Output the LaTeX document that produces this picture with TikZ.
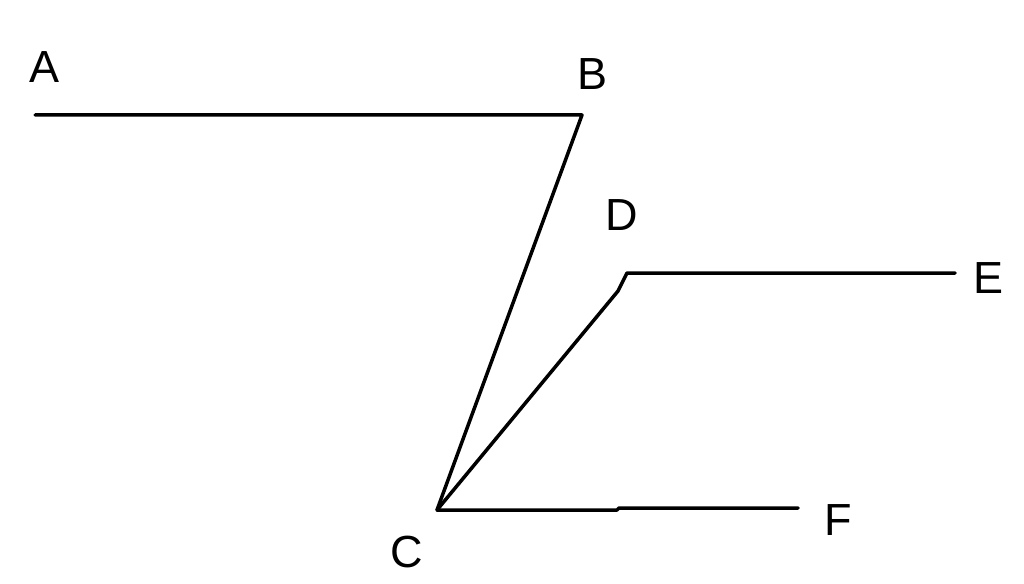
\documentclass[tikz,border=0pt]{standalone}
\usepackage{fontspec}
\setmainfont{Liberation Sans}
\begin{document}
\begin{tikzpicture}[x=1pt,y=-1pt,
  seg/.style={line width=3.5pt,line cap=round,line join=round,black},
  lbl/.style={anchor=base,inner sep=0pt,font=\fontsize{45}{45}\selectfont}]
\useasboundingbox (0,0) rectangle (1024,583);
\coordinate (a) at (35,115);
\coordinate (b) at (582,115);
\coordinate (c) at (437,510);
\coordinate (k1) at (618,291);
\coordinate (k2) at (621,285);
\coordinate (d) at (627,273);
\coordinate (e) at (955,273);
\coordinate (f1) at (617,510);
\coordinate (f2) at (619,508);
\coordinate (f) at (798,508);
\draw[seg] (a) -- (b) -- (c);
\draw[seg] (c) -- (k1) -- (k2) -- (d) -- (e);
\draw[seg] (c) -- (f1) -- (f2) -- (f);
\node[lbl] (la) at (45,83) {A};
\node[lbl] (lb) at (592,90) {B};
\node[lbl] (lc) at (407,567) {C};
\node[lbl] (ld) at (622,230) {D};
\node[lbl] (le) at (988,293) {E};
\node[lbl] (lf) at (838,535) {F};
\end{tikzpicture}
\end{document}
